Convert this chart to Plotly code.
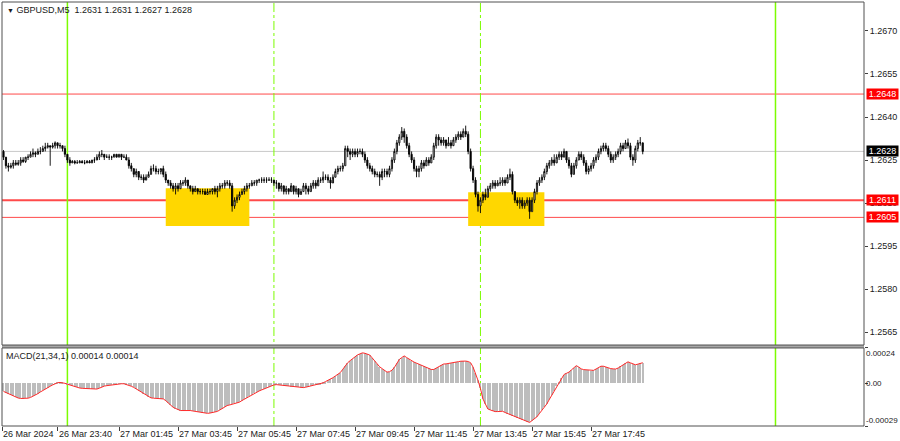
import pandas as pd
import plotly.graph_objects as go

# ---------------- data ----------------
symbol_title = "GBPUSD,M5\u00a0\u00a01.2631 1.2631 1.2627 1.2628"
macd_title = "MACD(21,34,1) 0.00014 0.00014"
start_time = "2024-03-26 21:50"

opens = [
1.2628,1.2626,1.2623,1.26225,1.2623,1.2624,1.26235,1.2624,1.2625,1.26245,
1.2626,1.2626,1.2627,1.26275,1.2627,1.2628,1.2628,1.2629,1.26295,1.2630,
1.26295,1.2630,1.2631,1.2630,1.2630,1.2629,1.2627,1.2625,1.2624,1.26245,
1.2624,1.2624,1.26245,1.2624,1.2624,1.26245,1.2624,1.2625,1.2625,1.2626,
1.2627,1.2627,1.2626,1.2626,1.2626,1.2626,1.2627,1.2626,1.2627,1.2626,
1.2626,1.2625,1.2623,1.2622,1.2620,1.2621,1.2619,1.2619,1.2618,1.2619,
1.2620,1.2622,1.2622,1.2621,1.2621,1.2622,1.2620,1.2618,1.2617,1.2616,
1.2615,1.2616,1.2615,1.2617,1.2617,1.2618,1.2616,1.2615,1.2614,1.2615,
1.2614,1.2614,1.2614,1.2613,1.2614,1.2614,1.2615,1.2614,1.2615,1.2616,
1.2616,1.2617,1.2617,1.2616,1.2609,1.2611,1.2612,1.2613,1.2614,1.2615,
1.2616,1.2616,1.2617,1.2617,1.2618,1.2618,1.2618,1.2618,1.2618,1.2618,
1.2618,1.2617,1.2617,1.2615,1.2616,1.2614,1.2615,1.2614,1.2616,1.2614,
1.2615,1.2613,1.2614,1.2616,1.2615,1.2614,1.2616,1.2617,1.2616,1.2618,
1.2618,1.2619,1.2619,1.2618,1.2617,1.2619,1.2621,1.2622,1.2622,1.2623,
1.2629,1.2628,1.2627,1.2628,1.2627,1.2628,1.2628,1.2627,1.2625,1.2623,
1.2622,1.2621,1.2620,1.2620,1.2619,1.2621,1.2621,1.2620,1.2622,1.2625,
1.2628,1.2631,1.2633,1.2635,1.2633,1.2630,1.2627,1.2625,1.2622,1.2621,
1.2622,1.2624,1.2623,1.2625,1.2624,1.2626,1.2630,1.2633,1.2632,1.2631,
1.2632,1.2630,1.2631,1.2630,1.2632,1.2633,1.2634,1.2633,1.2635,1.2634,
1.2628,1.2622,1.2618,1.2613,1.2609,1.2611,1.2613,1.2612,1.2615,1.2616,
1.2617,1.2616,1.2617,1.2617,1.2618,1.2617,1.2619,1.2620,1.2614,1.2611,
1.2610,1.2611,1.2609,1.2610,1.2611,1.2607,1.2611,1.2614,1.2617,1.2618,
1.2619,1.2621,1.2623,1.2624,1.2625,1.2624,1.2626,1.2627,1.2626,1.2628,
1.2625,1.2623,1.2620,1.2623,1.2625,1.2627,1.2626,1.2624,1.2621,1.2622,
1.2623,1.2625,1.2626,1.2628,1.2629,1.2630,1.2629,1.2627,1.2625,1.2626,
1.2627,1.2628,1.2630,1.2629,1.2631,1.2630,1.2626,1.2625,1.2629,1.2631,
1.2631]

highs = [
1.26285,1.2626,1.2624,1.2624,1.2625,1.2625,1.2625,1.2626,1.2626,1.2626,
1.2627,1.2628,1.2629,1.2628,1.2629,1.26295,1.2630,1.2631,1.2631,1.2630,
1.2631,1.26315,1.2631,1.2631,1.2630,1.2630,1.2627,1.2626,1.2625,1.2625,
1.2625,1.2625,1.2625,1.2625,1.2625,1.2625,1.2625,1.2626,1.2627,1.2628,
1.26285,1.2627,1.2627,1.2627,1.26265,1.2627,1.2627,1.2627,1.2627,1.2627,
1.2627,1.2626,1.2624,1.2622,1.2622,1.2621,1.2620,1.2620,1.2620,1.2621,
1.2623,1.26235,1.2623,1.2622,1.2622,1.2623,1.2621,1.2618,1.2618,1.2617,
1.2617,1.2617,1.2618,1.2618,1.2619,1.2618,1.2616,1.2616,1.2616,1.2615,
1.2615,1.2615,1.2615,1.2615,1.2615,1.2615,1.2616,1.2616,1.2617,1.2617,
1.2618,1.2618,1.2618,1.2617,1.2612,1.2613,1.2614,1.2615,1.2616,1.2617,
1.2617,1.2618,1.2618,1.2618,1.26185,1.2619,1.2619,1.2619,1.2619,1.2619,
1.2618,1.2618,1.2617,1.2617,1.2616,1.2616,1.2615,1.2617,1.2616,1.2616,
1.2615,1.2615,1.2617,1.2617,1.2616,1.2617,1.2618,1.2618,1.2619,1.2619,
1.2621,1.2620,1.2620,1.2619,1.2620,1.2622,1.2623,1.2623,1.2624,1.2630,
1.2630,1.2629,1.2629,1.2629,1.2629,1.2629,1.2629,1.2628,1.2626,1.2624,
1.2623,1.2622,1.2621,1.2621,1.2622,1.2622,1.2622,1.2623,1.2626,1.2629,
1.2632,1.2634,1.26365,1.2636,1.2634,1.2631,1.2628,1.2626,1.2623,1.2623,
1.2625,1.2625,1.2626,1.2626,1.2627,1.2631,1.2634,1.2634,1.2633,1.2633,
1.2632,1.2633,1.2632,1.2633,1.2634,1.2635,1.2635,1.2636,1.2637,1.2635,
1.2629,1.2623,1.2619,1.2614,1.2612,1.2614,1.2615,1.2616,1.2617,1.2618,
1.2618,1.2618,1.2619,1.2619,1.2619,1.2620,1.2622,1.2621,1.2614,1.2612,
1.2612,1.2612,1.2611,1.2612,1.2612,1.2612,1.2615,1.2618,1.2619,1.2620,
1.2622,1.2624,1.2625,1.2626,1.2627,1.2627,1.2628,1.2628,1.2629,1.2628,
1.2626,1.2624,1.2624,1.2626,1.2628,1.2628,1.2627,1.2625,1.2623,1.2624,
1.2626,1.2627,1.2629,1.2630,1.2631,1.2631,1.2630,1.2628,1.2627,1.2628,
1.2629,1.2631,1.2631,1.2632,1.26325,1.2631,1.2627,1.2630,1.2632,1.2633,
1.2631]

lows = [
1.2625,1.2622,1.2621,1.2622,1.2622,1.2623,1.2623,1.2623,1.2624,1.2624,
1.2625,1.2626,1.2626,1.2626,1.2627,1.2627,1.2628,1.2628,1.2629,1.2623,
1.2629,1.2629,1.2629,1.2629,1.2628,1.2626,1.2624,1.2623,1.2624,1.26235,
1.2624,1.2624,1.2624,1.26235,1.2624,1.2624,1.2624,1.2624,1.2625,1.2625,
1.2626,1.2625,1.2626,1.2625,1.2625,1.2626,1.2626,1.2626,1.2625,1.2626,
1.2625,1.2622,1.2621,1.2619,1.2619,1.2618,1.2618,1.2617,1.2618,1.2619,
1.2620,1.2621,1.2620,1.2620,1.2620,1.2619,1.2617,1.2616,1.2615,1.2614,
1.2613,1.2614,1.2615,1.2616,1.2616,1.2615,1.2614,1.2613,1.2614,1.2613,
1.2613,1.2613,1.2613,1.2613,1.2613,1.2613,1.2613,1.2612,1.2614,1.2615,
1.2615,1.2616,1.2615,1.2607,1.2608,1.2610,1.2611,1.2613,1.2613,1.2614,
1.2615,1.2616,1.2616,1.2616,1.2617,1.2617,1.2617,1.2617,1.2618,1.2617,
1.2616,1.2615,1.2614,1.2614,1.2613,1.2613,1.2613,1.2614,1.2613,1.2613,
1.2612,1.2613,1.2614,1.2613,1.2613,1.2614,1.2615,1.2615,1.2616,1.2617,
1.2617,1.2618,1.2617,1.2615,1.2617,1.2619,1.2620,1.2621,1.2621,1.2623,
1.2626,1.2625,1.2626,1.2626,1.2626,1.2627,1.2626,1.2624,1.2622,1.2621,
1.2620,1.2619,1.2619,1.2616,1.2618,1.2619,1.2619,1.2619,1.2621,1.2624,
1.2627,1.2630,1.2632,1.2631,1.2629,1.2626,1.2624,1.2621,1.2619,1.2619,
1.2621,1.2622,1.2623,1.2623,1.2624,1.2625,1.2629,1.2630,1.2630,1.2630,
1.2629,1.2630,1.2629,1.2630,1.2631,1.2632,1.2632,1.2633,1.2633,1.2627,
1.2621,1.2617,1.2612,1.2607,1.26065,1.2610,1.2611,1.2612,1.2614,1.2615,
1.2615,1.2616,1.2616,1.2616,1.2616,1.2617,1.2618,1.2613,1.2610,1.2609,
1.2608,1.2608,1.2608,1.2609,1.26045,1.2607,1.2610,1.2613,1.2616,1.2617,
1.2618,1.2620,1.2622,1.2623,1.2623,1.2624,1.2625,1.2625,1.2626,1.2624,
1.2622,1.2619,1.2620,1.2622,1.2625,1.2625,1.2623,1.2620,1.2620,1.2621,
1.2622,1.2624,1.2625,1.2627,1.2628,1.2628,1.2626,1.2624,1.2624,1.2625,
1.2626,1.2627,1.2628,1.2629,1.2629,1.2625,1.2623,1.2624,1.2628,1.2630,
1.2627]

closes = [
1.2626,1.2623,1.26225,1.2623,1.2624,1.26235,1.2624,1.2625,1.26245,1.2626,
1.2626,1.2627,1.26275,1.2627,1.2628,1.2628,1.2629,1.26295,1.2630,1.26295,
1.2630,1.2631,1.2630,1.2630,1.2629,1.2627,1.2625,1.2624,1.26245,1.2624,
1.2624,1.26245,1.2624,1.2624,1.26245,1.2624,1.2625,1.2625,1.2626,1.2627,
1.2627,1.2626,1.2626,1.2626,1.2626,1.2627,1.2626,1.2627,1.2626,1.2626,
1.2625,1.2623,1.2622,1.2620,1.2621,1.2619,1.2619,1.2618,1.2619,1.2620,
1.2622,1.2622,1.2621,1.2621,1.2622,1.2620,1.2618,1.2617,1.2616,1.2615,
1.2616,1.2615,1.2617,1.2617,1.2618,1.2616,1.2615,1.2614,1.2615,1.2614,
1.2614,1.2614,1.2613,1.2614,1.2614,1.2615,1.2614,1.2615,1.2616,1.2616,
1.2617,1.2617,1.2616,1.2609,1.2611,1.2612,1.2613,1.2614,1.2615,1.2616,
1.2616,1.2617,1.2617,1.2618,1.2618,1.2618,1.2618,1.2618,1.2618,1.2618,
1.2617,1.2617,1.2615,1.2616,1.2614,1.2615,1.2614,1.2616,1.2614,1.2615,
1.2613,1.2614,1.2616,1.2615,1.2614,1.2616,1.2617,1.2616,1.2618,1.2618,
1.2619,1.2619,1.2618,1.2617,1.2619,1.2621,1.2622,1.2622,1.2623,1.2629,
1.2628,1.2627,1.2628,1.2627,1.2628,1.2628,1.2627,1.2625,1.2623,1.2622,
1.2621,1.2620,1.2620,1.2619,1.2621,1.2621,1.2620,1.2622,1.2625,1.2628,
1.2631,1.2633,1.2635,1.2633,1.2630,1.2627,1.2625,1.2622,1.2621,1.2622,
1.2624,1.2623,1.2625,1.2624,1.2626,1.2630,1.2633,1.2632,1.2631,1.2632,
1.2630,1.2631,1.2630,1.2632,1.2633,1.2634,1.2633,1.2635,1.2634,1.2628,
1.2622,1.2618,1.2613,1.2609,1.2611,1.2613,1.2612,1.2615,1.2616,1.2617,
1.2616,1.2617,1.2617,1.2618,1.2617,1.2619,1.2620,1.2614,1.2611,1.2610,
1.2611,1.2609,1.2610,1.2611,1.2607,1.2611,1.2614,1.2617,1.2618,1.2619,
1.2621,1.2623,1.2624,1.2625,1.2624,1.2626,1.2627,1.2626,1.2628,1.2625,
1.2623,1.2620,1.2623,1.2625,1.2627,1.2626,1.2624,1.2621,1.2622,1.2623,
1.2625,1.2626,1.2628,1.2629,1.2630,1.2629,1.2627,1.2625,1.2626,1.2627,
1.2628,1.2630,1.2629,1.2631,1.2630,1.2626,1.2625,1.2629,1.2631,1.2631,
1.2628]

macd = [
-0.000055,-0.000063,-0.000071,-0.000079,-0.000087,-0.000095,-0.000100,-0.000103,-0.000104,-0.000103,
-0.000101,-0.000096,-0.000089,-0.000080,-0.000070,-0.000059,-0.000048,-0.000039,-0.000030,-0.000020,
-0.000011,-0.000003,0.000004,0.000006,0.000004,0.000000,-0.000006,-0.000012,-0.000018,-0.000023,
-0.000028,-0.000032,-0.000034,-0.000035,-0.000036,-0.000037,-0.000038,-0.000039,-0.000039,-0.000033,
-0.000024,-0.000019,-0.000016,-0.000013,-0.000010,-0.000008,-0.000006,-0.000004,-0.000003,-0.000003,
-0.000007,-0.000013,-0.000020,-0.000028,-0.000039,-0.000050,-0.000061,-0.000072,-0.000082,-0.000093,
-0.000099,-0.000101,-0.000102,-0.000103,-0.000104,-0.000106,-0.000118,-0.000133,-0.000148,-0.000163,
-0.000171,-0.000179,-0.000185,-0.000185,-0.000184,-0.000184,-0.000185,-0.000188,-0.000191,-0.000194,
-0.000197,-0.000199,-0.000202,-0.000204,-0.000202,-0.000199,-0.000195,-0.000191,-0.000181,-0.000171,
-0.000161,-0.000151,-0.000147,-0.000142,-0.000137,-0.000132,-0.000128,-0.000117,-0.000107,-0.000097,
-0.000087,-0.000076,-0.000067,-0.000059,-0.000052,-0.000045,-0.000038,-0.000030,-0.000024,-0.000018,
-0.000011,-0.000009,-0.000011,-0.000013,-0.000015,-0.000017,-0.000020,-0.000022,-0.000024,-0.000026,
-0.000028,-0.000029,-0.000029,-0.000026,-0.000022,-0.000018,-0.000014,-0.000012,-0.000010,-0.000006,
0.000003,0.000012,0.000020,0.000027,0.000038,0.000050,0.000061,0.000073,0.000095,0.000118,
0.000140,0.000154,0.000168,0.000181,0.000193,0.000200,0.000207,0.000204,0.000198,0.000192,
0.000172,0.000152,0.000132,0.000112,0.000100,0.000088,0.000076,0.000079,0.000089,0.000108,
0.000135,0.000162,0.000175,0.000186,0.000175,0.000163,0.000150,0.000144,0.000137,0.000130,
0.000122,0.000115,0.000108,0.000101,0.000094,0.000094,0.000104,0.000114,0.000124,0.000131,
0.000132,0.000134,0.000137,0.000140,0.000144,0.000147,0.000150,0.000153,0.000151,0.000148,
0.000140,0.000110,0.000070,0.000020,-0.000035,-0.000105,-0.000140,-0.000174,-0.000181,-0.000187,
-0.000192,-0.000192,-0.000191,-0.000190,-0.000198,-0.000205,-0.000213,-0.000221,-0.000228,-0.000236,
-0.000243,-0.000249,-0.000255,-0.000261,-0.000266,-0.000253,-0.000240,-0.000227,-0.000205,-0.000184,
-0.000162,-0.000140,-0.000110,-0.000081,-0.000051,-0.000021,0.000008,0.000038,0.000060,0.000068,
0.000076,0.000091,0.000106,0.000120,0.000110,0.000098,0.000093,0.000091,0.000089,0.000087,
0.000088,0.000097,0.000106,0.000116,0.000116,0.000110,0.000104,0.000100,0.000098,0.000097,
0.000104,0.000115,0.000126,0.000137,0.000146,0.000139,0.000131,0.000126,0.000130,0.000135,
0.000140]

level_prices = [1.2648, 1.2611, 1.2605]
level_labels = ["1.2648", "1.2611", "1.2605"]
current_price = 1.2628
current_label = "1.2628"

zone_starts = ["2024-03-27 03:20", "2024-03-27 13:35"]
zone_ends = ["2024-03-27 06:10", "2024-03-27 16:10"]
zone_tops = [1.26152, 1.26138]
zone_bottoms = [1.26020, 1.26020]

day_separators = ["2024-03-27 00:00", "2024-03-28 00:00"]
session_lines = ["2024-03-27 07:00", "2024-03-27 14:00"]

price_ticks = [1.2565, 1.2580, 1.2595, 1.2610, 1.2625, 1.2640, 1.2655, 1.2670]
macd_ticks = [0.00024, 0.0, -0.00029]
macd_tick_labels = ["0.00024", "0.00", "-0.00029"]

time_ticks = ["2024-03-26 21:48", "2024-03-26 23:40", "2024-03-27 01:45", "2024-03-27 03:45",
              "2024-03-27 05:45", "2024-03-27 07:45", "2024-03-27 09:45", "2024-03-27 11:45",
              "2024-03-27 13:45", "2024-03-27 15:45", "2024-03-27 17:45"]
time_labels = ["26 Mar 2024", "26 Mar 23:40", "27 Mar 01:45", "27 Mar 03:45", "27 Mar 05:45",
               "27 Mar 07:45", "27 Mar 09:45", "27 Mar 11:45", "27 Mar 13:45", "27 Mar 15:45",
               "27 Mar 17:45"]

# ---------------- figure ----------------
times = pd.date_range(start_time, periods=len(closes), freq="5min")
FONT = "Liberation Sans, Arial, sans-serif"
TXT = "#1a1a1a"
FS = 9
MAIN_BOTTOM = 0.191
MACD_TOP = 0.184

fig = go.Figure()
fig.add_trace(go.Candlestick(
    x=times, open=opens, high=highs, low=lows, close=closes,
    increasing=dict(line=dict(color="#000000", width=0.9), fillcolor="#ffffff"),
    decreasing=dict(line=dict(color="#000000", width=0.9), fillcolor="#000000"),
    whiskerwidth=0, xaxis="x", yaxis="y", hoverinfo="skip", showlegend=False))
fig.add_trace(go.Bar(
    x=times, y=macd, width=170000, marker=dict(color="#bdbdbd", line=dict(width=0)),
    xaxis="x", yaxis="y2", hoverinfo="skip", showlegend=False))
fig.add_trace(go.Scatter(
    x=times, y=macd, mode="lines", line=dict(color="#ff2a2a", width=1),
    xaxis="x", yaxis="y2", hoverinfo="skip", showlegend=False))

shapes = []
for xs, xe, yt, yb in zip(zone_starts, zone_ends, zone_tops, zone_bottoms):
    shapes.append(dict(type="rect", xref="x", yref="y", x0=xs, x1=xe, y0=yb, y1=yt,
                       fillcolor="#ffd700", line=dict(width=0), layer="below"))
shapes.append(dict(type="line", xref="paper", yref="y", x0=0, x1=1, y0=current_price,
                   y1=current_price, line=dict(color="#c8c8c8", width=1), layer="below"))
for p, w in zip(level_prices, [1, 2, 1]):
    shapes.append(dict(type="line", xref="paper", yref="y", x0=0, x1=1, y0=p, y1=p,
                       line=dict(color="#ff4a4a", width=w), layer="below"))
for t in day_separators:
    shapes.append(dict(type="line", xref="x", yref="paper", x0=t, x1=t, y0=0, y1=1,
                       line=dict(color="#7cfc00", width=1.5), layer="below"))
for t in session_lines:
    shapes.append(dict(type="line", xref="x", yref="paper", x0=t, x1=t, y0=0, y1=1,
                       line=dict(color="#7cfc00", width=1, dash="dashdot"), layer="below"))
shapes.append(dict(type="rect", xref="paper", yref="paper", x0=0, x1=1.0, y0=MACD_TOP,
                   y1=MAIN_BOTTOM, fillcolor="#a8a8a8", line=dict(width=0)))
shapes.append(dict(type="rect", xref="paper", yref="paper", x0=0, x1=1, y0=MAIN_BOTTOM,
                   y1=1, line=dict(color="#505050", width=1)))
shapes.append(dict(type="rect", xref="paper", yref="paper", x0=0, x1=1, y0=0,
                   y1=MACD_TOP, line=dict(color="#505050", width=1)))

ann = []
ann.append(dict(xref="paper", yref="paper", x=0, y=1, xanchor="left", yanchor="top",
                xshift=3, yshift=-1, showarrow=False,
                text="<span style='font-size:7px'>\u25bc</span>\u00a0" + symbol_title,
                font=dict(family=FONT, size=FS, color=TXT)))
ann.append(dict(xref="paper", yref="paper", x=0, y=MACD_TOP, xanchor="left", yanchor="top",
                xshift=2, yshift=-1, showarrow=False, text=macd_title,
                font=dict(family=FONT, size=FS, color=TXT)))
for p, lab in zip(level_prices, level_labels):
    ann.append(dict(xref="paper", yref="y", x=1, y=p, xanchor="left", yanchor="middle",
                    xshift=2, showarrow=False, text=lab, bgcolor="#ff0000",
                    width=31, height=10, borderpad=0,
                    font=dict(family=FONT, size=FS, color="#ffffff")))
ann.append(dict(xref="paper", yref="y", x=1, y=current_price, xanchor="left", yanchor="middle",
                xshift=2, showarrow=False, text=current_label, bgcolor="#000000",
                width=31, height=10, borderpad=0,
                font=dict(family=FONT, size=FS, color="#ffffff")))
for v, lab, ya in zip(macd_ticks, macd_tick_labels, ["top", "middle", "bottom"]):
    ann.append(dict(xref="paper", yref="y2", x=1, y=v, xanchor="left", yanchor=ya,
                    xshift=1, showarrow=False, text=lab, borderpad=0,
                    font=dict(family=FONT, size=8, color=TXT)))
for t, lab in zip(time_ticks, time_labels):
    ann.append(dict(xref="x", yref="paper", x=t, y=0, xanchor="left", yanchor="top",
                    xshift=-1, yshift=-1, showarrow=False, text=lab,
                    font=dict(family=FONT, size=FS, color=TXT)))

fig.update_layout(
    width=900, height=441,
    margin=dict(l=2, r=36, t=2, b=15),
    paper_bgcolor="#ffffff", plot_bgcolor="#ffffff",
    showlegend=False, hovermode=False,
    font=dict(family=FONT, size=FS, color=TXT),
    xaxis=dict(type="date", range=["2024-03-26 21:47", "2024-03-28 03:00"],
               anchor="y2", rangeslider=dict(visible=False), showgrid=False,
               zeroline=False, showline=False, ticks="outside", ticklen=4,
               tickcolor="#404040", tickvals=time_ticks, showticklabels=False),
    yaxis=dict(domain=[MAIN_BOTTOM, 1], range=[1.25605, 1.26801], side="right",
               showgrid=False, zeroline=False, showline=False, ticks="outside",
               ticklen=3, tickcolor="#404040", tickvals=price_ticks, tickformat=".4f",
               tickfont=dict(family=FONT, size=FS, color=TXT), anchor="x"),
    yaxis2=dict(domain=[0, MACD_TOP], range=[-0.00029, 0.00024], side="right",
                showgrid=False, zeroline=False, showline=False, ticks="outside",
                ticklen=3, tickcolor="#404040", tickvals=macd_ticks,
                showticklabels=False, anchor="x"),
    shapes=shapes, annotations=ann, bargap=0,
)

fig.write_html("out.html", config={"displayModeBar": False},
               post_script="document.body.style.margin='0';document.body.style.overflow='hidden';")
